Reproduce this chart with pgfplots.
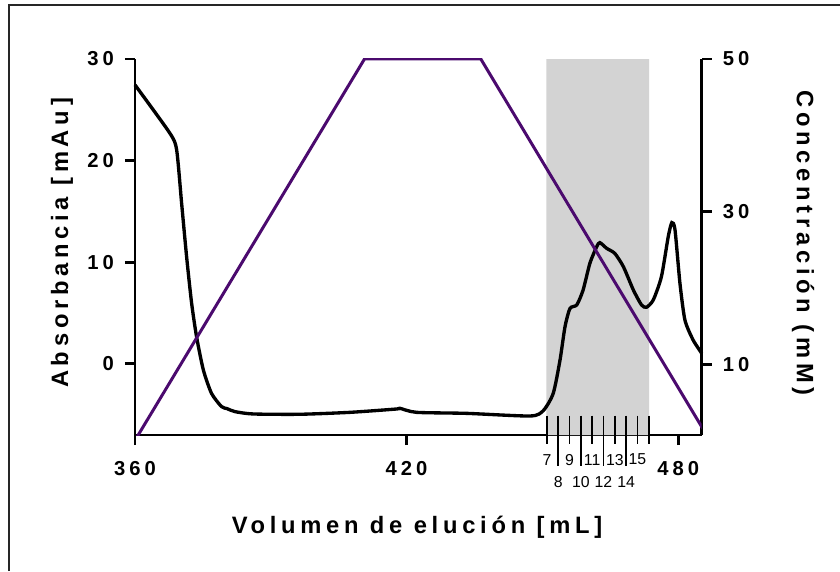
\documentclass[border=0pt]{standalone}
\usepackage{fontspec}
\setmainfont{Liberation Sans}
\newfontfamily\spaced[LetterSpace=20]{Liberation Sans}
\usepackage{pgfplots}
\pgfplotsset{compat=1.18}
\definecolor{gradpurple}{RGB}{75,10,110}
\definecolor{fracgray}{RGB}{211,211,211}

% absorbance trace (mAu) vs elution volume (mL)
\pgfplotstableread{
vol abs
360.0 27.45
367.7 22.7
369.2 21.05
370.3 15.8
371.4 10.55
372.5 6.0
373.6 2.67
375.1 -0.6
376.9 -2.9
379.1 -4.2
380.3 -4.4
382.1 -4.7
386.1 -4.93
396.4 -4.96
407.5 -4.77
417.8 -4.44
418.5 -4.37
422.2 -4.77
433.3 -4.87
447.3 -5.13
450.2 -4.6
452.4 -2.9
453.9 0.38
455.0 3.66
456.1 5.46
457.6 5.8
459.0 7.27
460.5 9.9
462.0 11.53
462.7 11.93
464.2 11.37
466.0 10.87
467.9 9.56
470.1 7.27
471.9 5.8
473.0 5.57
474.5 6.29
476.3 8.58
477.8 12.5
478.6 13.9
479.3 13.2
480.4 7.9
481.5 4.3
483.3 2.35
485.2 1.04
}\absdata

% salt gradient (mM)
\pgfplotstableread{
vol conc
360.0 0
410.7 50
436.4 50
487.0 0
}\concdata

\newcommand\fracfont{\fontsize{9}{10}\selectfont}
\newcommand\lblfont{\spaced\bfseries\fontsize{13.5}{15}\selectfont}

\begin{document}
\begin{tikzpicture}
\path[use as bounding box] (0,0) rectangle (16.8,11.42);
\draw[line width=0.6pt, black!85] (0.18,0) -- (0.18,11.32) -- (16.8,11.32);

\begin{axis}[
  at={(2.7cm,2.72cm)}, anchor=south west,
  scale only axis, width=11.334cm, height=7.52cm,
  xmin=360, xmax=485.2, ymin=-7, ymax=30,
  axis x line*=bottom, axis y line*=left,
  xtick={360,420,480}, ytick={0,10,20,30},
  tick align=outside, major tick length=0.2cm,
  every tick/.style={line width=1.7pt, black},
  axis line style={line width=1.7pt},
  ticklabel style={font=\spaced\bfseries\fontsize{11.5}{13}\selectfont},
  xticklabel style={yshift=-0.2cm},
  yticklabel style={xshift=-0.1cm},
  /pgf/number format/assume math mode=true,
  clip=false,
]
\addplot[fill=fracgray, draw=none] coordinates {(450.9,-7) (473.6,-7) (473.6,30) (450.9,30) (450.9,-7)};
\addplot[black, line width=1.9pt, smooth, tension=0.4] table[x=vol, y=abs] {\absdata};
% fraction marks (short: odd fractions, long: even fractions)
\draw[line width=0.9pt] (axis cs:451,-5.1) -- (axis cs:451,-7.92);
\draw[line width=0.9pt] (axis cs:456,-5.1) -- (axis cs:456,-7.92);
\draw[line width=0.9pt] (axis cs:461,-5.1) -- (axis cs:461,-7.92);
\draw[line width=0.9pt] (axis cs:466,-5.1) -- (axis cs:466,-7.92);
\draw[line width=0.9pt] (axis cs:471,-5.1) -- (axis cs:471,-7.92);
\draw[line width=0.9pt] (axis cs:473.5,-5.1) -- (axis cs:473.5,-7.92);
\draw[line width=0.9pt] (axis cs:453.5,-5.1) -- (axis cs:453.5,-10.05);
\draw[line width=0.9pt] (axis cs:458.5,-5.1) -- (axis cs:458.5,-10.05);
\draw[line width=0.9pt] (axis cs:463.5,-5.1) -- (axis cs:463.5,-10.05);
\draw[line width=0.9pt] (axis cs:468.5,-5.1) -- (axis cs:468.5,-10.05);
\node[font=\fracfont] at (axis cs:451,-9.42) {7};
\node[font=\fracfont] at (axis cs:456,-9.42) {9};
\node[font=\fracfont] at (axis cs:461,-9.42) {11};
\node[font=\fracfont] at (axis cs:466,-9.42) {13};
\node[font=\fracfont] at (axis cs:471,-9.42) {15};
\node[font=\fracfont] at (axis cs:453.5,-11.62) {8};
\node[font=\fracfont] at (axis cs:458.5,-11.62) {10};
\node[font=\fracfont] at (axis cs:463.5,-11.62) {12};
\node[font=\fracfont] at (axis cs:468.5,-11.62) {14};
\end{axis}

\begin{axis}[
  at={(2.7cm,2.72cm)}, anchor=south west,
  scale only axis, width=11.334cm, height=7.52cm,
  xmin=360, xmax=485.2, ymin=0.7, ymax=50,
  axis x line=none, axis y line*=right,
  ytick={10,30,50},
  tick align=outside, major tick length=0.2cm,
  every tick/.style={line width=1.7pt, black},
  axis line style={line width=1.7pt},
  ticklabel style={font=\spaced\bfseries\fontsize{11.5}{13}\selectfont},
  yticklabel style={xshift=0.1cm},
  /pgf/number format/assume math mode=true,
]
\addplot[gradpurple, line width=1.7pt] table[x=vol, y=conc] {\concdata};
\end{axis}

\node[font=\lblfont] at (8.34,0.88) {Volumen de elución [mL]};
\node[rotate=90, font=\lblfont] at (1.24,6.56) {Absorbancia [mAu]};
\node[rotate=-90, font=\lblfont] at (16.06,6.56) {Concentración (mM)};
\end{tikzpicture}
\end{document}
